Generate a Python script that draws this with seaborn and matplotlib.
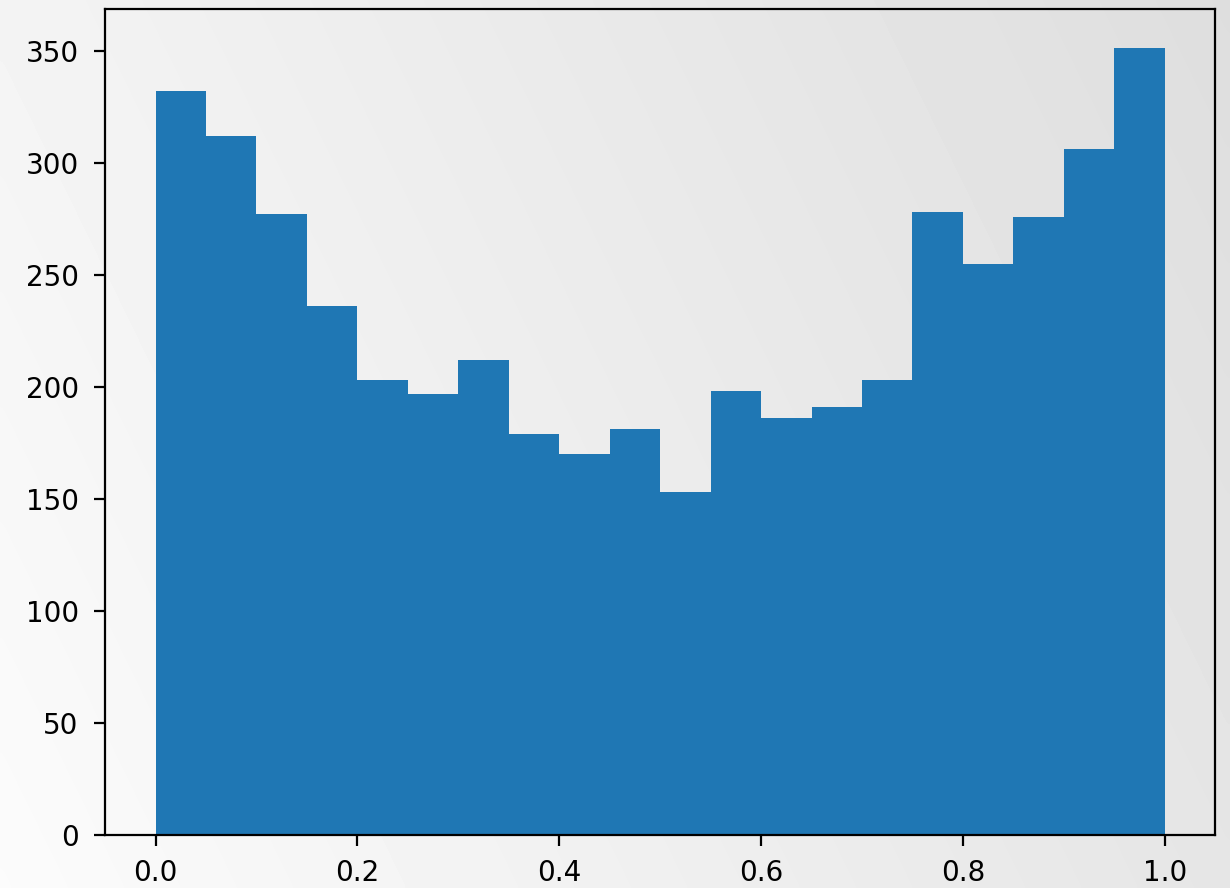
import numpy as np
import pandas as pd
import matplotlib
matplotlib.use("Agg")
import matplotlib.pyplot as plt
import seaborn as sns

# Histogram: 20 equal bins over [0, 1] and the count in each bin
n_bins = 20
bin_range = (0.0, 1.0)
counts = [332, 312, 277, 236, 203, 197, 212, 179, 170, 181,
          153, 198, 186, 191, 203, 278, 255, 276, 306, 351]

bin_edges = np.linspace(bin_range[0], bin_range[1], n_bins + 1)
centers = (bin_edges[:-1] + bin_edges[1:]) / 2
df = pd.DataFrame({"value": centers, "count": counts})

plt.rcParams["font.family"] = ["DejaVu Sans"]

fig = plt.figure(figsize=(6.15, 4.44), dpi=200)

# Soft diagonal gradient behind everything
bg = fig.add_axes([0, 0, 1, 1], zorder=-10)
gx, gy = np.meshgrid(np.linspace(0, 1, 256), np.linspace(0, 1, 256))
shade = 0.985 - 0.085 * gx - 0.03 * gy
bg.imshow(shade, cmap="gray", vmin=0, vmax=1, origin="lower",
          extent=[0, 1, 0, 1], aspect="auto", interpolation="bicubic")
bg.set_axis_off()

ax = fig.add_axes([0.0854, 0.0597, 0.9026, 0.9301])
ax.patch.set_alpha(0)

sns.histplot(data=df, x="value", weights="count", bins=n_bins,
             binrange=bin_range, color="#1f77b4", alpha=1.0,
             linewidth=0, ax=ax)

ax.set_xlim(-0.05, 1.05)
ax.set_ylim(0, 368.6)
ax.set_xlabel("")
ax.set_ylabel("")
ax.set_xticks([0.0, 0.2, 0.4, 0.6, 0.8, 1.0])
ax.set_yticks([0, 50, 100, 150, 200, 250, 300, 350])
ax.tick_params(labelsize=10, direction="out", length=4, width=0.8,
               color="black")
ax.tick_params(axis="y", pad=5.5)
ax.tick_params(axis="x", pad=4.5)
for s in ax.spines.values():
    s.set_color("black")
    s.set_linewidth(0.8)

fig.savefig("out.png", dpi=200)
